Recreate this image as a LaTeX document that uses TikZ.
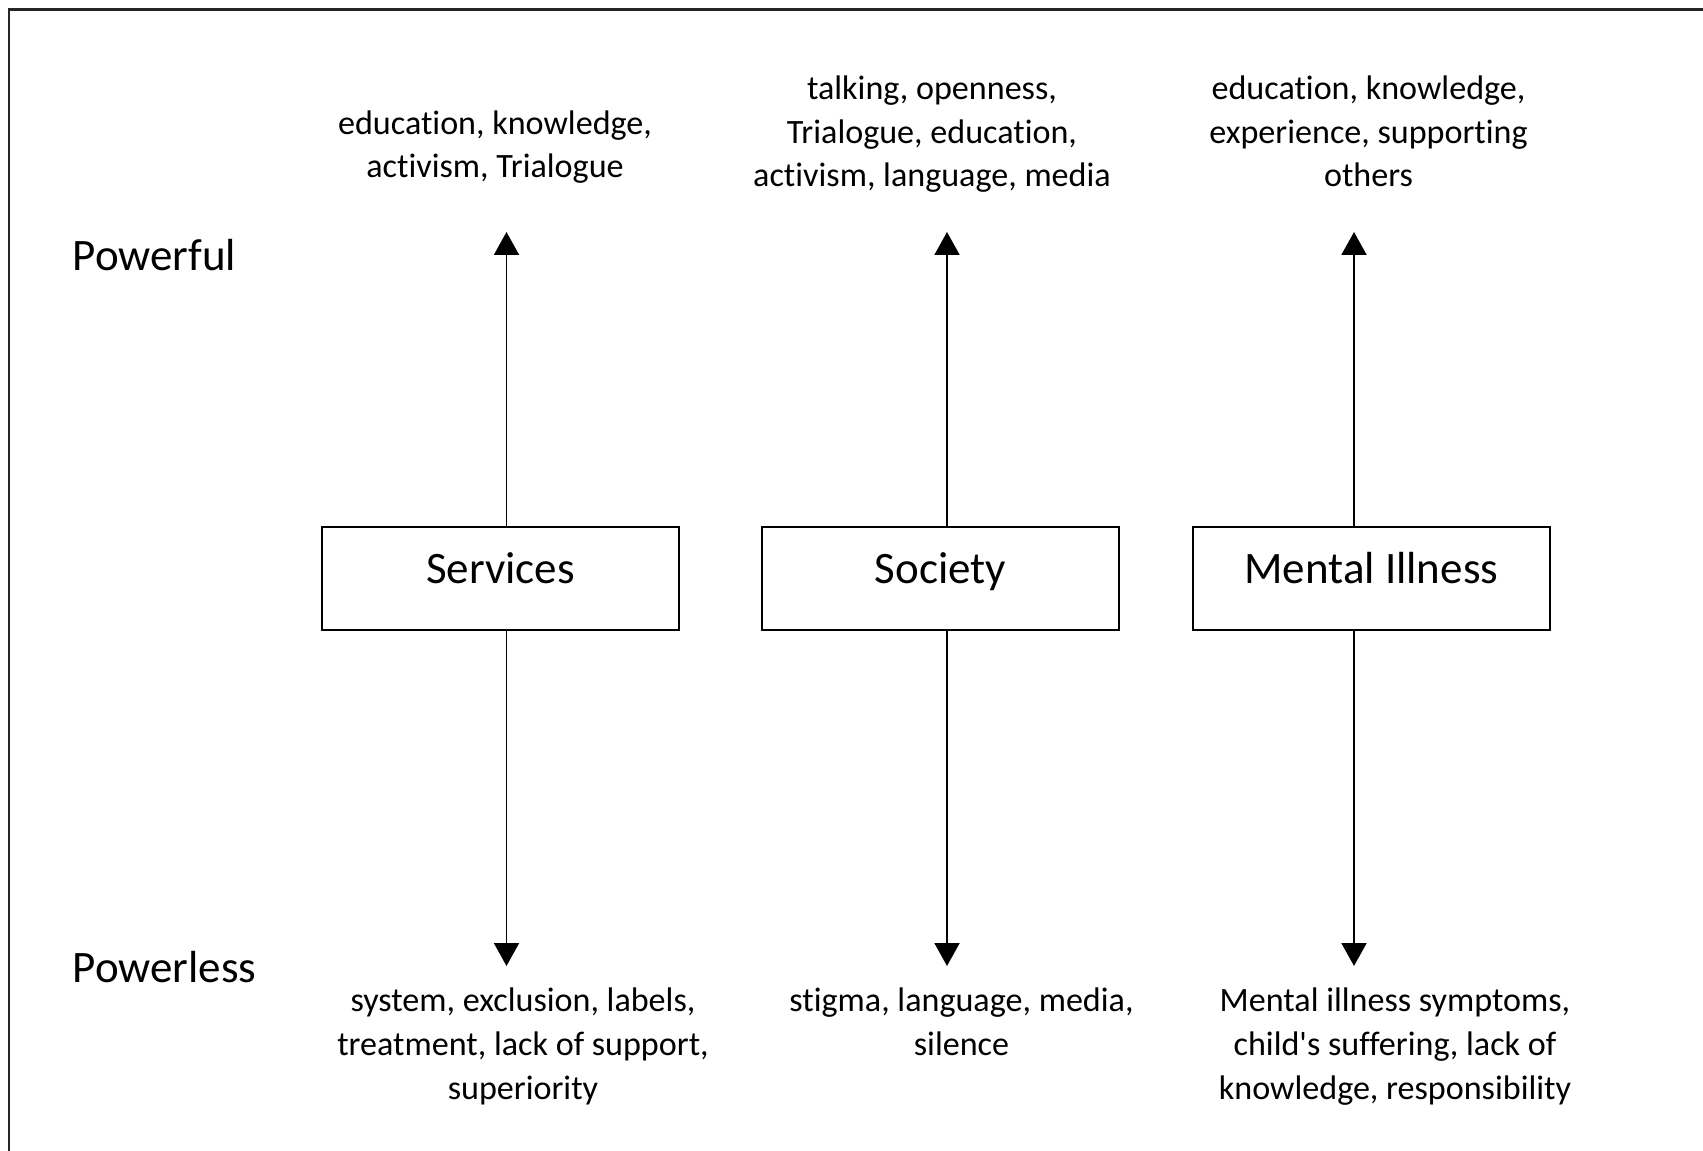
\documentclass[tikz,border=0pt]{standalone}
\usepackage{fontspec}
\setmainfont{Carlito}[Ligatures=CommonOff]
\usetikzlibrary{arrows.meta, positioning}

\begin{document}
\begin{tikzpicture}[
    box/.style={rectangle, draw=black, line width=1.1pt, minimum width=7.14cm, minimum height=2.06cm,
        inner sep=0pt, text height=0.62cm, text depth=0.42cm, font=\fontsize{25.6}{30}\selectfont},
    words/.style={align=center, inner sep=0pt, anchor=base, font=\fontsize{19.4}{25}\selectfont},
    level/.style={anchor=base west, inner sep=0pt, font=\fontsize{25.6}{30}\selectfont},
    arrow/.style={-{Triangle[length=0.46cm, width=0.5cm]}, line width=1.1pt, color=black}
]
\useasboundingbox (0,0) rectangle (34.06,23);

% frame
\draw[line width=1.7pt, black!85] (0.18,-0.1) |- (34.2,22.8);

% Boxes
\node[box] (services) at (10.01,11.43) {Services};
\node[box, right=1.62cm of services] (society) {Society};
\node[box, right=1.44cm of society] (illness) {Mental Illness};

% Power levels
\node[level] (powerful) at (1.45,17.58) {Powerful};
\node[level] (powerless) at (1.45,3.36) {Powerless};

% Arrow ends
\coordinate (svcUp) at (10.13,18.36);
\coordinate (svcDown) at (10.13,3.68);
\coordinate (socUp) at (18.94,18.36);
\coordinate (socDown) at (18.94,3.68);
\coordinate (illUp) at (27.08,18.36);
\coordinate (illDown) at (27.08,3.68);

% Factors above and below (placed by their last line)
\node[words] (svcPlus) at (9.9,19.44) {education, knowledge,\\activism, Trialogue};
\node[words] (socPlus) at (18.64,19.26) {talking, openness,\\Trialogue, education,\\activism, language, media};
\node[words] (illPlus) at (27.37,19.26) {education, knowledge,\\experience, supporting\\others};
\node[words] (svcMinus) at (10.46,1.02) {system, exclusion, labels,\\treatment, lack of support,\\superiority};
\node[words] (socMinus) at (19.23,1.90) {stigma, language, media,\\silence};
\node[words] (illMinus) at (27.9,1.02) {Mental illness symptoms,\\child\textquotesingle s suffering, lack of\\knowledge, responsibility};

% Arrows
\draw[arrow] (svcUp |- services.north) -- (svcUp);
\draw[arrow] (svcDown |- services.south) -- (svcDown);
\draw[arrow] (socUp |- society.north) -- (socUp);
\draw[arrow] (socDown |- society.south) -- (socDown);
\draw[arrow] (illUp |- illness.north) -- (illUp);
\draw[arrow] (illDown |- illness.south) -- (illDown);

\end{tikzpicture}
\end{document}
